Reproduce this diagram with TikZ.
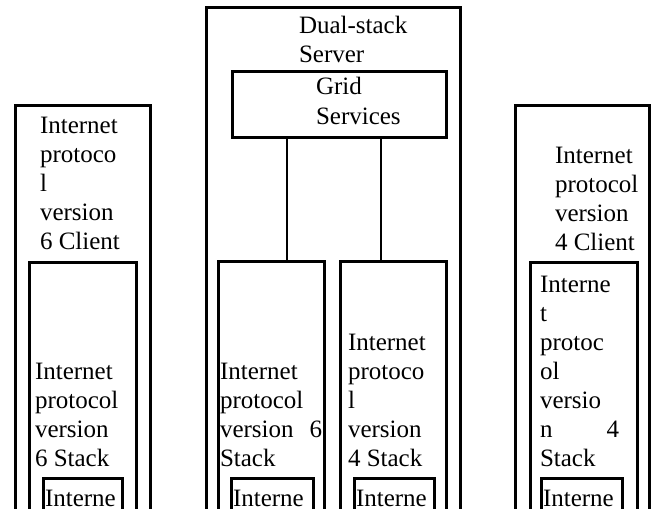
\documentclass[tikz,border=0pt]{standalone}
\usepackage{fontspec}
\setmainfont{Liberation Serif}
\begin{document}
\begin{tikzpicture}[x=1pt,y=-1pt,
  box/.style={draw=black,line width=3pt,rectangle,inner sep=0pt,outer sep=0pt,anchor=north west},
  conn/.style={draw=black,line width=2.5pt},
  txt/.style={anchor=north west,inner sep=0pt,outer sep=0pt,align=left,
    font=\fontsize{25}{29}\selectfont}]
\useasboundingbox (0,0) rectangle (652,508);
\clip (0,0) rectangle (652,508);
% boxes
\node[box,minimum width=135pt,minimum height=420pt] (clientL) at (15.5,105.5) {};
\node[box,minimum width=107pt,minimum height=270pt] (stackL) at (29.5,262) {};
\node[box,minimum width=79.5pt,minimum height=50pt] (innerL) at (43,478.5) {};
\node[box,minimum width=253.5pt,minimum height=520pt] (server) at (206.5,8) {};
\node[box,minimum width=214.5pt,minimum height=65.5pt] (grid) at (232,71.5) {};
\node[box,minimum width=106pt,minimum height=270pt] (stack6) at (218.5,261) {};
\node[box,minimum width=105.5pt,minimum height=270pt] (stack4) at (340.5,261) {};
\node[box,minimum width=81.5pt,minimum height=50pt] (inner6) at (231.5,478.5) {};
\node[box,minimum width=80pt,minimum height=50pt] (inner4) at (354,478.5) {};
\node[box,minimum width=133.5pt,minimum height=420pt] (clientR) at (515.5,105.5) {};
\node[box,minimum width=106.5pt,minimum height=270pt] (stackR) at (530.5,262) {};
\node[box,minimum width=80.5pt,minimum height=50pt] (innerR) at (541.5,478.5) {};
% connectors
\coordinate (c6) at (287,0);
\coordinate (c4) at (381,0);
\draw[conn] (grid.south -| c6) -- (c6 |- stack6.north);
\draw[conn] (grid.south -| c4) -- (c4 |- stack4.north);
% texts
\node[txt] (tserver) at (299,13.7) {\strut Dual-stack\\Server};
\node[txt] (tgrid) at (316,74.7) {\strut Grid\\Services};
\node[txt] (tclientL) at (40,112.7) {\strut Internet\\protoco\\l\\version\\6 Client};
\node[txt] (tstackL) at (35,358.7) {\strut Internet\\protocol\\version\\6 Stack};
\node[txt] (tinnerL) at (45,485.7) {\strut Interne};
\node[txt] (tstack6) at (220,358.7) {\strut Internet\\protocol\\\makebox[102pt][l]{version\hfill 6}\\Stack};
\node[txt] (tinner6) at (233,485.7) {\strut Interne};
\node[txt] (tstack4) at (348,329.7) {\strut Internet\\protoco\\l\\version\\4 Stack};
\node[txt] (tinner4) at (356,485.7) {\strut Interne};
\node[txt] (tclientR) at (555,142.7) {\strut Internet\\protocol\\version\\4 Client};
\node[txt] (tstackR) at (540,271.7) {\strut Interne\\t\\protoc\\ol\\versio\\\makebox[79pt][l]{n\hfill 4}\\Stack};
\node[txt] (tinnerR) at (543,485.7) {\strut Interne};
\end{tikzpicture}
\end{document}
